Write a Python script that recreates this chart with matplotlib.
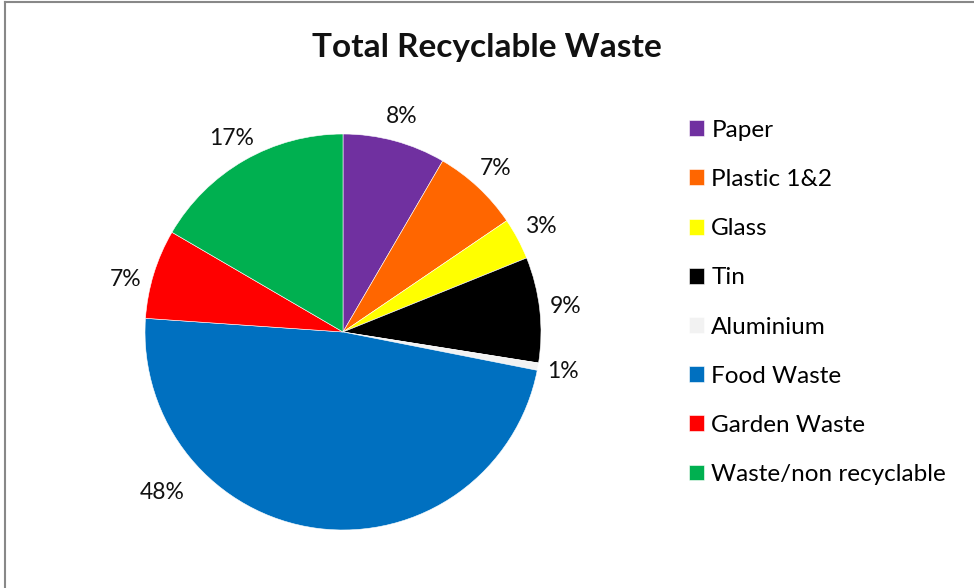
import numpy as np
import matplotlib.pyplot as plt
from matplotlib.lines import Line2D

# data (share of total, %)
categories = ['Paper', 'Plastic 1&2', 'Glass', 'Tin', 'Aluminium',
              'Food Waste', 'Garden Waste', 'Waste/non recyclable']
shares = [8.4, 7.1, 3.4, 8.6, 0.6, 48.0, 7.3, 16.6]
colours = ['#7030A0', '#FF6600', '#FFFF00', '#000000', '#F2F2F2',
           '#0070C0', '#FF0000', '#00B050']

plt.rcParams['font.family'] = ['Lato', 'DejaVu Sans']

W, H = 974, 588
fig = plt.figure(figsize=(W / 100, H / 100), dpi=100)

# chart area border (only left and top are visible in the crop)
fig.add_artist(Line2D([5 / W, 5 / W], [0, 1 - 1.5 / H], color='#888888', lw=1.5))
fig.add_artist(Line2D([5 / W, 1], [1 - 1.5 / H, 1 - 1.5 / H], color='#888888', lw=1.5))

# pie axes: centre ~(343, 332) px, radius ~198 px
cx, cy, r = 343, 332, 198
ax = fig.add_axes([(cx - r) / W, (H - cy - r) / H, 2 * r / W, 2 * r / H])

wedges, texts, autotexts = ax.pie(
    shares, colors=colours, startangle=90, counterclock=False,
    autopct='%.0f%%', pctdistance=1.13,
    wedgeprops={'edgecolor': 'white', 'linewidth': 0.4},
    textprops={'fontsize': 16.5, 'color': '#111111'})

# excel "best fit" moved a couple of labels away from the wedge middle
def move_label(t, deg, dist):
    a = np.deg2rad(deg)
    t.set_position((dist * np.sin(a), dist * np.cos(a)))

move_label(autotexts[5], 228.5, 1.22)
move_label(autotexts[6], 283.5, 1.13)

ax.set_xlim(-1, 1)
ax.set_ylim(-1, 1)
ax.set_aspect('equal')
ax.axis('off')

fig.text(0.5, 1 - 48 / H, 'Total Recyclable Waste', ha='center', va='center',
         fontsize=24, fontweight='bold', color='#111111')

fig.legend(wedges, categories, loc='upper left',
           bbox_to_anchor=(679 / W, 1 - 110 / H), frameon=False,
           fontsize=17.5, handlelength=0.63, handleheight=0.63,
           handletextpad=0.3, labelspacing=1.16, borderaxespad=0)

fig.savefig('out.png', dpi=100)
